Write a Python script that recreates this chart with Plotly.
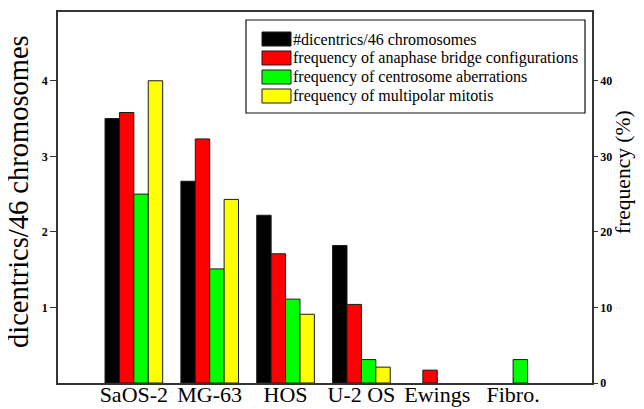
import plotly.graph_objects as go

# ---- data ----
categories = ["SaOS-2", "MG-63", "HOS", "U-2 OS", "Ewings", "Fibro."]
dicentrics_per_46 = [3.50, 2.67, 2.22, 1.82, None, None]          # left axis
anaphase_bridge_pct = [35.8, 32.3, 17.1, 10.4, 1.7, None]         # right axis (%)
centrosome_aberr_pct = [25.0, 15.1, 11.1, 3.1, None, 3.1]         # right axis (%)
multipolar_mitosis_pct = [40.0, 24.3, 9.1, 2.1, None, None]       # right axis (%)

series_names = [
    "#dicentrics/46 chromosomes",
    "frequency of anaphase bridge configurations",
    "frequency of centrosome aberrations",
    "frequency of multipolar mitotis",
]
left_tick_vals = [1, 2, 3, 4]
right_tick_vals = [0, 10, 20, 30, 40]
left_title = "dicentrics/46 chromosomes"
right_title = "frequency (%)"

# ---- style / layout ----
FONT = "Liberation Serif, Times New Roman, serif"
colors = ["#000000", "#ff0000", "#00ff00", "#ffff00"]
bar_w = 0.19
offsets = [-2 * bar_w, -bar_w, 0.0, bar_w]
axis_col = "#333333"

PAGE_OFF = 8                      # default page body margin
WIN_W, WIN_H = 644, 409
W, H = WIN_W - PAGE_OFF, WIN_H - PAGE_OFF
# plot area wanted in window pixels: x 58..592, y 12..383
ML = 58 - PAGE_OFF
MT = 12 - PAGE_OFF
MR = W - (592 - PAGE_OFF)
MB = H - (383 - PAGE_OFF)
PW, PH = W - ML - MR, H - MT - MB


def px_x(px):  # window px -> paper
    return (px - PAGE_OFF - ML) / PW


def px_y(py):
    return (H - MB - (py - PAGE_OFF)) / PH


series = [dicentrics_per_46, anaphase_bridge_pct, centrosome_aberr_pct, multipolar_mitosis_pct]
yaxes = ["y", "y2", "y2", "y2"]

fig = go.Figure()
for name, vals, col, off, ya in zip(series_names, series, colors, offsets, yaxes):
    fig.add_trace(go.Bar(
        x=categories, y=vals, name=name, yaxis=ya,
        width=bar_w, offset=off, showlegend=False,
        marker=dict(color=col, line=dict(color="#1a1a1a", width=1)),
    ))

# legend box, swatches and labels (drawn in paper space)
shapes = [dict(
    type="rect", xref="paper", yref="paper",
    x0=px_x(246), x1=px_x(585), y0=px_y(113), y1=px_y(20),
    line=dict(color="#111111", width=1.2), fillcolor="rgba(0,0,0,0)", layer="above",
)]
annotations = []
entry_y = [39, 58, 77, 96]
for name, col, cy in zip(series_names, colors, entry_y):
    shapes.append(dict(
        type="rect", xref="paper", yref="paper",
        x0=px_x(262), x1=px_x(291), y0=px_y(cy + 7), y1=px_y(cy - 7),
        line=dict(color="#1a1a1a", width=1), fillcolor=col, layer="above",
    ))
    annotations.append(dict(
        text=name, xref="paper", yref="paper", x=px_x(291), y=px_y(cy),
        xanchor="left", yanchor="middle", showarrow=False,
        font=dict(family=FONT, size=16, color="black"),
    ))

annotations += [
    dict(text=left_title, xref="paper", yref="paper", x=px_x(18), y=px_y(192),
         xanchor="center", yanchor="middle", textangle=-90, showarrow=False,
         font=dict(family=FONT, size=28.5, color="black")),
    dict(text=right_title, xref="paper", yref="paper", x=px_x(623), y=px_y(172),
         xanchor="center", yanchor="middle", textangle=-90, showarrow=False,
         font=dict(family=FONT, size=21.5, color="black")),
]

fig.update_layout(
    width=W, height=H,
    margin=dict(l=ML, r=MR, t=MT, b=MB, pad=0, autoexpand=False),
    paper_bgcolor="white", plot_bgcolor="white",
    barmode="overlay",
    font=dict(family=FONT, color="black"),
    showlegend=False,
    xaxis=dict(
        type="category", range=[-1.0, 6.04], automargin=False,
        showline=True, linecolor=axis_col, linewidth=1.5, mirror=True,
        ticks="inside", ticklen=5, tickcolor=axis_col, tickwidth=1,
        ticklabelstandoff=-9,
        tickfont=dict(family=FONT, size=22, color="black"),
        showgrid=False, zeroline=False,
    ),
    yaxis=dict(
        range=[0, 4.91], tickvals=left_tick_vals, automargin=False,
        showline=True, linecolor=axis_col, linewidth=1.5,
        ticks="outside", ticklen=6, tickcolor=axis_col, tickwidth=1,
        tickfont=dict(family=FONT, size=12, color="black", weight="bold"),
        showgrid=False, zeroline=False,
    ),
    yaxis2=dict(
        range=[0, 49.1], tickvals=right_tick_vals, overlaying="y", side="right",
        automargin=False,
        showline=True, linecolor=axis_col, linewidth=1.5,
        ticks="outside", ticklen=4, tickcolor=axis_col, tickwidth=1,
        tickfont=dict(family=FONT, size=12, color="black", weight="bold"),
        showgrid=False, zeroline=False,
    ),
    shapes=shapes,
    annotations=annotations,
)

fig.write_html("out.html")
